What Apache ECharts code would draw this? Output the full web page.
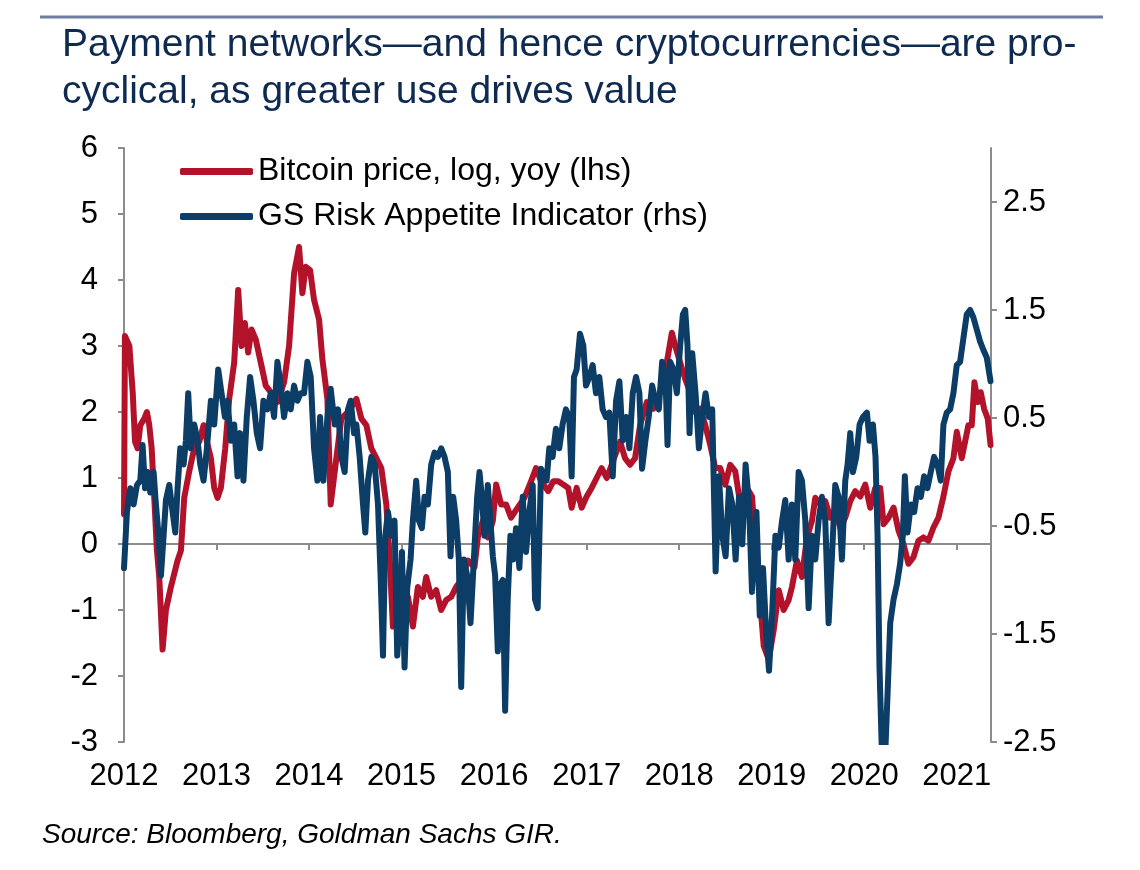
<!DOCTYPE html>
<html>
<head>
<meta charset="utf-8">
<title>Payment networks and cryptocurrencies</title>
<script src="https://cdn.jsdelivr.net/npm/echarts@6/dist/echarts.min.js"></script>
<style>
  html, body { margin: 0; padding: 0; background: #fff; }
  #chart { width: 1140px; height: 870px; }
</style>
</head>
<body>
<div id="chart"></div>
<script>
// [decimal year, value]
// Bitcoin price, log, yoy (left axis)
const bitcoinYoy = [
  [2012.000, 0.45], [2012.010, 3.15], [2012.058, 3.0], [2012.094, 2.3], [2012.119, 1.55], [2012.147, 1.45],
  [2012.176, 1.8], [2012.219, 1.9], [2012.248, 2.0], [2012.273, 1.8], [2012.299, 1.45], [2012.327, 0.7],
  [2012.356, -0.1], [2012.381, -0.5], [2012.417, -1.6], [2012.453, -1.0], [2012.507, -0.65], [2012.579, -0.25],
  [2012.615, -0.1], [2012.651, 0.7], [2012.705, 1.1], [2012.759, 1.45], [2012.813, 1.55], [2012.860, 1.8],
  [2012.896, 1.55], [2012.939, 1.3], [2012.975, 0.85], [2013.011, 0.7], [2013.047, 0.85], [2013.094, 1.45],
  [2013.137, 2.2], [2013.191, 2.75], [2013.234, 3.85], [2013.270, 3.0], [2013.306, 3.35], [2013.342, 2.9],
  [2013.378, 3.25], [2013.424, 3.1], [2013.478, 2.75], [2013.532, 2.4], [2013.586, 2.3], [2013.658, 2.15],
  [2013.730, 2.45], [2013.784, 3.0], [2013.838, 4.1], [2013.892, 4.5], [2013.928, 3.8], [2013.964, 4.2],
  [2014.011, 4.15], [2014.054, 3.7], [2014.108, 3.4], [2014.144, 2.8], [2014.198, 2.2], [2014.234, 0.6],
  [2014.295, 1.3], [2014.349, 1.9], [2014.421, 2.0], [2014.511, 2.2], [2014.565, 1.9], [2014.619, 1.8],
  [2014.673, 1.45], [2014.727, 1.3], [2014.781, 1.15], [2014.835, 0.6], [2014.871, -0.2], [2014.906, -1.25],
  [2014.942, -0.95], [2014.996, -1.1], [2015.068, -0.8], [2015.122, -1.25], [2015.176, -0.65], [2015.230, -0.8],
  [2015.266, -0.5], [2015.320, -0.8], [2015.374, -0.7], [2015.428, -1.0], [2015.482, -0.85], [2015.536, -0.8],
  [2015.590, -0.65], [2015.644, -0.55], [2015.716, -0.25], [2015.788, -0.35], [2015.824, 0.1], [2015.878, 0.35],
  [2015.932, 0.1], [2015.986, 0.35], [2016.022, 0.9], [2016.076, 0.6], [2016.129, 0.6], [2016.183, 0.4],
  [2016.255, 0.55], [2016.327, 0.7], [2016.399, 0.95], [2016.453, 1.15], [2016.507, 0.95], [2016.585, 0.8],
  [2016.639, 0.95], [2016.693, 0.95], [2016.747, 0.9], [2016.801, 0.85], [2016.838, 0.55], [2016.892, 0.85],
  [2016.946, 0.55], [2017.000, 0.72], [2017.054, 0.85], [2017.108, 1.0], [2017.162, 1.15], [2017.217, 1.0],
  [2017.271, 1.2], [2017.361, 1.55], [2017.415, 1.3], [2017.469, 1.2], [2017.523, 1.3], [2017.578, 1.8],
  [2017.650, 2.15], [2017.722, 2.05], [2017.794, 2.3], [2017.866, 2.75], [2017.921, 3.2], [2017.957, 3.0],
  [2018.011, 2.75], [2018.065, 2.5], [2018.119, 2.3], [2018.173, 2.0], [2018.227, 2.05], [2018.282, 1.8],
  [2018.336, 1.5], [2018.390, 1.15], [2018.444, 1.15], [2018.498, 0.9], [2018.552, 1.2], [2018.606, 1.1],
  [2018.661, 0.6], [2018.733, 0.85], [2018.787, 0.72], [2018.820, 0.1], [2018.860, -0.6], [2018.914, -1.55],
  [2018.968, -1.75], [2019.022, -1.3], [2019.076, -0.7], [2019.129, -1.0], [2019.183, -0.85], [2019.219, -0.65],
  [2019.273, -0.25], [2019.327, -0.5], [2019.381, 0.1], [2019.435, 0.35], [2019.471, 0.7], [2019.525, 0.6],
  [2019.579, 0.65], [2019.633, 0.4], [2019.687, 0.5], [2019.741, 0.25], [2019.795, 0.4], [2019.849, 0.65],
  [2019.903, 0.8], [2019.957, 0.72], [2020.011, 0.9], [2020.065, 0.55], [2020.119, 0.85], [2020.173, 0.85],
  [2020.209, 0.3], [2020.263, 0.4], [2020.317, 0.55], [2020.371, 0.2], [2020.424, 0.0], [2020.478, -0.3],
  [2020.532, -0.2], [2020.586, 0.05], [2020.640, 0.1], [2020.694, 0.05], [2020.748, 0.25], [2020.802, 0.4],
  [2020.856, 0.72], [2020.910, 1.1], [2020.964, 1.3], [2021.000, 1.7], [2021.054, 1.3], [2021.090, 1.55],
  [2021.126, 1.8], [2021.162, 1.8], [2021.191, 2.45], [2021.227, 2.15], [2021.259, 2.3], [2021.295, 2.05],
  [2021.335, 1.9], [2021.365, 1.5]
];

// GS Risk Appetite Indicator (right axis)
const riskAppetite = [
  [2012.000, -0.89], [2012.032, -0.37], [2012.068, -0.15], [2012.104, -0.30], [2012.140, -0.12], [2012.176, -0.08],
  [2012.201, 0.25], [2012.227, -0.15], [2012.255, 0.00], [2012.284, -0.19], [2012.320, 0.00], [2012.345, -0.30],
  [2012.371, -0.56], [2012.399, -0.96], [2012.428, -0.59], [2012.453, -0.26], [2012.489, -0.12], [2012.525, -0.37],
  [2012.554, -0.56], [2012.579, -0.15], [2012.608, 0.22], [2012.644, 0.07], [2012.669, 0.29], [2012.694, 0.73],
  [2012.723, 0.22], [2012.759, 0.44], [2012.795, 0.29], [2012.824, 0.07], [2012.860, -0.08], [2012.896, 0.22],
  [2012.939, 0.66], [2012.975, 0.44], [2013.018, 0.95], [2013.054, 0.73], [2013.090, 0.51], [2013.119, 0.66],
  [2013.155, 0.29], [2013.191, 0.44], [2013.227, -0.04], [2013.255, 0.36], [2013.291, -0.08], [2013.327, 0.51],
  [2013.363, 0.88], [2013.399, 0.66], [2013.435, 0.36], [2013.471, 0.22], [2013.507, 0.66], [2013.550, 0.58],
  [2013.586, 0.73], [2013.622, 0.51], [2013.658, 1.02], [2013.694, 0.80], [2013.730, 0.51], [2013.766, 0.73],
  [2013.802, 0.58], [2013.838, 0.80], [2013.874, 0.66], [2013.910, 0.73], [2013.946, 0.73], [2013.982, 1.02],
  [2014.018, 0.88], [2014.054, 0.22], [2014.090, -0.08], [2014.119, 0.51], [2014.155, -0.08], [2014.198, 0.51],
  [2014.234, 0.77], [2014.277, 0.44], [2014.313, 0.58], [2014.349, 0.14], [2014.385, 0.00], [2014.421, 0.58],
  [2014.450, 0.66], [2014.486, 0.36], [2014.511, 0.44], [2014.547, 0.14], [2014.583, -0.30], [2014.608, -0.56],
  [2014.637, -0.08], [2014.673, 0.14], [2014.709, 0.07], [2014.745, -0.30], [2014.773, -0.96], [2014.799, -1.70],
  [2014.824, -0.59], [2014.853, -0.37], [2014.888, -0.59], [2014.924, -0.45], [2014.953, -1.70], [2014.978, -1.40],
  [2015.004, -0.74], [2015.032, -1.81], [2015.061, -1.07], [2015.097, -0.81], [2015.122, -0.45], [2015.158, -0.08],
  [2015.187, -0.45], [2015.219, -0.52], [2015.248, -0.23], [2015.284, -0.30], [2015.320, 0.07], [2015.356, 0.18],
  [2015.392, 0.14], [2015.428, 0.22], [2015.464, 0.14], [2015.500, 0.00], [2015.529, -0.78], [2015.558, -0.23],
  [2015.590, -0.45], [2015.619, -0.81], [2015.644, -1.99], [2015.673, -0.81], [2015.709, -0.96], [2015.745, -1.40],
  [2015.781, -0.81], [2015.817, -0.23], [2015.842, 0.00], [2015.867, -0.23], [2015.896, -0.59], [2015.932, -0.12],
  [2015.960, -0.45], [2015.986, -0.78], [2016.011, -0.96], [2016.040, -1.66], [2016.068, -1.04], [2016.094, -1.00],
  [2016.119, -2.21], [2016.147, -1.18], [2016.176, -0.59], [2016.205, -0.81], [2016.237, -0.52], [2016.273, -0.89],
  [2016.309, -0.23], [2016.345, -0.74], [2016.381, -0.37], [2016.417, -0.12], [2016.442, -1.18], [2016.471, -1.26],
  [2016.507, 0.03], [2016.567, -0.08], [2016.596, 0.22], [2016.632, 0.14], [2016.668, 0.40], [2016.704, 0.22],
  [2016.740, 0.44], [2016.776, 0.58], [2016.812, 0.51], [2016.838, -0.04], [2016.863, 0.88], [2016.892, 0.95],
  [2016.928, 1.28], [2016.964, 1.17], [2016.993, 0.80], [2017.029, 0.88], [2017.065, 0.99], [2017.101, 0.73],
  [2017.137, 0.88], [2017.173, 0.58], [2017.209, 0.51], [2017.245, 0.55], [2017.282, -0.04], [2017.318, 0.66],
  [2017.354, 0.84], [2017.390, 0.29], [2017.426, 0.51], [2017.462, 0.22], [2017.498, 0.73], [2017.534, 0.88],
  [2017.570, 0.73], [2017.599, 0.03], [2017.635, 0.29], [2017.671, 0.51], [2017.708, 0.80], [2017.744, 0.66],
  [2017.780, 0.58], [2017.816, 1.02], [2017.852, 0.88], [2017.874, 0.25], [2017.903, 1.02], [2017.939, 0.95],
  [2017.975, 0.73], [2018.011, 1.17], [2018.040, 1.46], [2018.065, 1.50], [2018.090, 1.17], [2018.112, 0.36],
  [2018.141, 1.10], [2018.177, 0.73], [2018.213, 0.22], [2018.249, 0.51], [2018.285, 0.73], [2018.321, 0.51],
  [2018.357, 0.58], [2018.394, -0.92], [2018.430, -0.04], [2018.466, -0.59], [2018.502, -0.78], [2018.538, -0.15],
  [2018.574, -0.30], [2018.610, -0.81], [2018.646, -0.23], [2018.682, -0.67], [2018.718, 0.07], [2018.755, -0.30],
  [2018.787, -1.11], [2018.835, -0.37], [2018.871, -1.33], [2018.906, -0.89], [2018.942, -1.51], [2018.971, -1.84],
  [2019.004, -1.33], [2019.040, -0.59], [2019.076, -0.70], [2019.112, -0.45], [2019.147, -0.26], [2019.183, -0.81],
  [2019.219, -0.30], [2019.255, -0.81], [2019.291, 0.00], [2019.327, -0.08], [2019.363, -0.45], [2019.399, -1.26],
  [2019.435, -0.59], [2019.471, -0.81], [2019.507, -0.45], [2019.543, -0.23], [2019.579, -0.45], [2019.615, -1.40],
  [2019.651, -0.78], [2019.687, -0.12], [2019.723, -0.23], [2019.759, -0.81], [2019.795, -0.08], [2019.820, 0.07],
  [2019.849, 0.36], [2019.878, 0.00], [2019.914, 0.14], [2019.950, 0.44], [2019.986, 0.51], [2020.029, 0.55],
  [2020.058, 0.29], [2020.094, 0.44], [2020.122, 0.14], [2020.144, -0.59], [2020.165, -1.81], [2020.191, -2.60],
  [2020.227, -2.60], [2020.252, -2.06], [2020.281, -1.40], [2020.317, -1.18], [2020.353, -1.04], [2020.388, -0.85],
  [2020.417, -0.59], [2020.439, -0.04], [2020.468, -0.56], [2020.504, -0.30], [2020.540, -0.37], [2020.576, -0.15],
  [2020.612, -0.23], [2020.647, -0.04], [2020.683, -0.15], [2020.719, 0.00], [2020.755, 0.14], [2020.791, 0.07],
  [2020.827, -0.08], [2020.856, 0.44], [2020.892, 0.55], [2020.928, 0.58], [2020.964, 0.73], [2021.000, 0.99],
  [2021.036, 1.02], [2021.072, 1.24], [2021.108, 1.46], [2021.144, 1.50], [2021.180, 1.43], [2021.216, 1.32],
  [2021.252, 1.21], [2021.288, 1.13], [2021.324, 1.06], [2021.365, 0.84]
];

const yearLabels = [2012, 2013, 2014, 2015, 2016, 2017, 2018, 2019, 2020, 2021];
const rhsTicks = [-2.5, -1.5, -0.5, 0.5, 1.5, 2.5];
const seriesNames = ['Bitcoin price, log, yoy (lhs)', 'GS Risk Appetite Indicator (rhs)'];

const FONT = '"Liberation Sans", Arial, sans-serif';
const RED = '#B3122B';
const BLUE = '#0B3D66';
const GREY = '#8C8C8C';

var chart = echarts.init(document.getElementById('chart'));

var option = {
    animation: false,
    backgroundColor: '#fff',
    textStyle: { fontFamily: FONT },
    title: {
        text: 'Payment networks\u2014and hence cryptocurrencies\u2014are pro-\ncyclical, as greater use drives value',
        left: 57,
        top: 17,
        textStyle: {
            color: '#0E2A50',
            fontSize: 39,
            fontWeight: 'normal',
            lineHeight: 47,
            fontFamily: FONT
        }
    },
    graphic: [
        {
            type: 'line',
            shape: { x1: 40, y1: 17, x2: 1103, y2: 17 },
            style: { stroke: '#6E7E9C', lineWidth: 3 }
        },
        {
            type: 'text',
            left: 42,
            top: 821,
            style: {
                text: 'Source: Bloomberg, Goldman Sachs GIR.',
                font: 'italic 28px ' + FONT,
                fill: '#000'
            }
        }
    ],
    legend: {
        orient: 'vertical',
        left: 175,
        top: 149,
        itemWidth: 73,
        itemHeight: 7,
        itemGap: 10,
        icon: 'roundRect',
        data: seriesNames,
        textStyle: { fontSize: 32, color: '#000', lineHeight: 35, fontFamily: FONT }
    },
    grid: { left: 124, right: 149, top: 148, bottom: 128 },
    xAxis: [
        {
            // labels along the bottom
            type: 'value',
            min: 2012,
            max: 2021.37,
            position: 'bottom',
            axisLine: { show: false },
            axisTick: { show: false },
            splitLine: { show: false },
            axisLabel: {
                customValues: yearLabels,
                formatter: function (v) { return String(v); },
                fontSize: 31,
                color: '#000',
                margin: 19
            }
        },
        {
            // zero line with the year ticks
            type: 'value',
            min: 2012,
            max: 2021.37,
            position: 'top',
            axisLine: { show: true, onZero: true, onZeroAxisIndex: 0, lineStyle: { color: GREY, width: 2 } },
            axisTick: { show: true, inside: true, length: 6, customValues: yearLabels.slice(1), lineStyle: { color: GREY, width: 2 } },
            axisLabel: { show: false },
            splitLine: { show: false }
        }
    ],
    yAxis: [
        {
            type: 'value',
            position: 'left',
            min: -3,
            max: 6,
            interval: 1,
            axisLine: { show: true, onZero: false, lineStyle: { color: GREY, width: 2 } },
            axisTick: { show: true, length: 6, lineStyle: { color: GREY, width: 2 } },
            axisLabel: { fontSize: 31, color: '#000', margin: 26 },
            splitLine: { show: false }
        },
        {
            type: 'value',
            position: 'right',
            min: -2.5,
            max: 3,
            axisLine: { show: true, onZero: false, lineStyle: { color: GREY, width: 2 } },
            axisTick: { show: true, length: 6, customValues: rhsTicks, lineStyle: { color: GREY, width: 2 } },
            axisLabel: {
                customValues: rhsTicks,
                formatter: function (v) { return v.toFixed(1); },
                fontSize: 31,
                color: '#000',
                margin: 12
            },
            splitLine: { show: false }
        }
    ],
    series: [
        {
            name: seriesNames[0],
            type: 'line',
            xAxisIndex: 0,
            yAxisIndex: 0,
            data: bitcoinYoy,
            showSymbol: false,
            symbol: 'none',
            itemStyle: { color: RED },
            lineStyle: { color: RED, width: 6, cap: 'round', join: 'round' },
            z: 2
        },
        {
            name: seriesNames[1],
            type: 'line',
            xAxisIndex: 0,
            yAxisIndex: 1,
            data: riskAppetite,
            showSymbol: false,
            symbol: 'none',
            itemStyle: { color: BLUE },
            lineStyle: { color: BLUE, width: 6, cap: 'round', join: 'round' },
            z: 3
        }
    ]
};

chart.setOption(option);
</script>
</body>
</html>
